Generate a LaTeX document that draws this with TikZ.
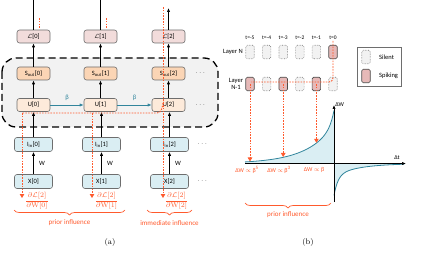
\documentclass[tikz,border=0pt]{standalone}
\usepackage{amsmath,amssymb}
\usepackage{fontspec}
\newfontfamily\figsans{Carlito}
\usepackage{tikz}
\usetikzlibrary{arrows.meta,decorations.pathreplacing}
\usepackage{xcolor}
\definecolor{boxline}{HTML}{6E6E6E}
\definecolor{lossfill}{HTML}{F2DCDB}
\definecolor{soutfill}{HTML}{FBD5B5}
\definecolor{memfill}{HTML}{FDEADA}
\definecolor{infill}{HTML}{DAEEF3}
\definecolor{groupfill}{HTML}{F2F2F2}
\definecolor{decayteal}{HTML}{31859C}
\definecolor{gradred}{HTML}{FF5A2D}
\definecolor{spikefill}{HTML}{E6B9B8}

\begin{document}
\begin{tikzpicture}[x=1pt,y=-1pt,font=\figsans\fontsize{6.5}{7.5}\selectfont]
  \tikzset{statebox/.style={draw=boxline,line width=0.6pt,rounded corners=2.5pt,minimum width=33pt,minimum height=13pt,inner sep=0pt}}
  \tikzset{lossbox/.style={statebox,fill=lossfill}}
  \tikzset{outbox/.style={statebox,fill=soutfill}}
  \tikzset{membox/.style={statebox,fill=memfill}}
  \tikzset{inbox/.style={statebox,fill=infill,minimum width=38pt,minimum height=14pt}}
  \tikzset{link/.style={draw=black,line width=0.7pt}}
  \tikzset{flow/.style={link,-{Latex[length=4pt,width=3.2pt]}}}
  \tikzset{decay/.style={draw=decayteal,line width=0.7pt,-{Latex[length=4pt,width=3.2pt]}}}
  \tikzset{grad/.style={draw=gradred,line width=0.9pt,dash pattern=on 1.6pt off 1.2pt}}
  \tikzset{gradarrow/.style={grad,-{Triangle[length=4pt,width=4.5pt]}}}
  \tikzset{gradlabel/.style={text=gradred,font=\figsans\fontsize{7}{8}\selectfont,inner sep=0pt}}
  \tikzset{gradbrace/.style={draw=gradred,line width=0.7pt,decorate,decoration={brace,amplitude=5pt}}}
  \tikzset{silentbox/.style={draw=gray,densely dotted,line width=0.6pt,fill=groupfill,rounded corners=1.5pt,minimum width=8.5pt,minimum height=13.5pt,inner sep=0pt}}
  \tikzset{spikebox/.style={draw=black!70,line width=0.6pt,fill=spikefill,rounded corners=1.5pt,minimum width=8.5pt,minimum height=13.5pt,inner sep=0pt}}
  \tikzset{steplabel/.style={font=\figsans\fontsize{5.5}{6.5}\selectfont,inner sep=0pt}}
  \tikzset{curve/.style={draw=decayteal,line width=0.8pt}}
  \useasboundingbox (0,0) rectangle (423,259);
  % (a) unrolled network
  \draw[black,line width=1.3pt,dash pattern=on 7pt off 4pt,fill=groupfill,rounded corners=14pt] (2,58) rectangle (218,127);
  \node[lossbox] (l0) at (33.5,36.5) {$\mathcal{L}$[0]};
  \node[lossbox] (l1) at (100.5,36.5) {$\mathcal{L}$[1]};
  \node[lossbox] (l2) at (168.5,36.5) {$\mathcal{L}$[2]};
  \node[outbox] (s0) at (33.5,73.5) {S\textsubscript{out}[0]};
  \node[outbox] (s1) at (100.5,73.5) {S\textsubscript{out}[1]};
  \node[outbox] (s2) at (168.5,73.5) {S\textsubscript{out}[2]};
  \node[membox] (u0) at (33.5,105) {U[0]};
  \node[membox] (u1) at (100.5,105) {U[1]};
  \node[membox] (u2) at (168.5,105) {U[2]};
  \node[inbox] (i0) at (33.5,144.5) {I\textsubscript{in}[0]};
  \node[inbox] (i1) at (101.5,144.5) {I\textsubscript{in}[1]};
  \node[inbox] (i2) at (169.5,144.5) {I\textsubscript{in}[2]};
  \node[inbox] (x0) at (33.5,181.5) {X[0]};
  \node[inbox] (x1) at (101.5,181.5) {X[1]};
  \node[inbox] (x2) at (169.5,181.5) {X[2]};
  \node (sdots) at (201,73.5) {$\cdots$};
  \node (udots) at (201,105) {$\cdots$};
  \node (idots) at (203,144.5) {$\cdots$};
  \node (xdots) at (203,181.5) {$\cdots$};
  \coordinate (top0) at (33.5,0);
  \coordinate (top1) at (100.5,0);
  \coordinate (top2) at (168.5,8);
  \draw[link] (l0.north) -- (top0);
  \draw[link] (l1.north) -- (top1);
  \draw[flow] (l2.north) -- (top2);
  \draw[flow] (s0) -- (l0);
  \draw[flow] (s1) -- (l1);
  \draw[flow] (s2) -- (l2);
  \draw[flow] (u0) -- (s0);
  \draw[flow] (u1) -- (s1);
  \draw[flow] (u2) -- (s2);
  \draw[flow] (i0.north) -- (u0.south);
  \draw[flow] (i1.north) -- (i1.north |- u1.south);
  \draw[flow] (i2.north) -- (i2.north |- u2.south);
  \draw[flow] (x0) -- node[right=2pt] {W} (i0);
  \draw[flow] (x1) -- node[right=2pt] {W} (i1);
  \draw[flow] (x2) -- node[right=2pt] {W} (i2);
  \draw[decay] (u0) -- node[above=1pt,text=decayteal] {β} (u1);
  \draw[decay] (u1) -- node[above=1pt,text=decayteal] {β} (u2);
  % gradient paths
  \coordinate (gtick0a) at (39,18);
  \coordinate (gtick0b) at (39,28);
  \coordinate (gtick1a) at (106,18);
  \coordinate (gtick1b) at (106,28);
  \draw[grad] (gtick0a) -- (gtick0b);
  \draw[grad] (gtick1a) -- (gtick1b);
  \coordinate (g2top) at (163,7);
  \coordinate (g2end) at (163,198);
  \coordinate (gbend) at (163,103);
  \coordinate (gturn) at (157,113);
  \coordinate (gsplit1) at (92,113);
  \coordinate (gsplit0) at (22,113);
  \coordinate (g1end) at (92,198);
  \coordinate (g0end) at (22,198);
  \draw[gradarrow] (g2top) -- (g2end);
  \draw[grad] (gbend) to[out=-100,in=0] (gturn) -- (gsplit0);
  \draw[gradarrow] (gsplit0) -- (g0end);
  \draw[gradarrow] (gsplit1) -- (g1end);
  \node[gradlabel] (d0) at (37,201) {$\dfrac{\partial\mathcal{L}[2]}{\partial\mathrm{W}[0]}$};
  \node[gradlabel] (d1) at (106.5,201) {$\dfrac{\partial\mathcal{L}[2]}{\partial\mathrm{W}[1]}$};
  \node[gradlabel] (d2) at (176.5,201) {$\dfrac{\partial\mathcal{L}[2]}{\partial\mathrm{W}[2]}$};
  \coordinate (pa) at (125,210);
  \coordinate (pb) at (14,210);
  \coordinate (ia) at (192,210);
  \coordinate (ib) at (147,210);
  \draw[gradbrace] (pa) -- (pb);
  \draw[gradbrace] (ia) -- (ib);
  \node[gradlabel] (prior) at (69.5,223) {prior influence};
  \node[gradlabel] (immediate) at (169.5,223) {immediate influence};
  \node[font=\rmfamily\fontsize{8}{9}\selectfont] (capa) at (110,242) {(a)};
  % (b) spike timing
  \node[steplabel] (t5) at (250,38) {t=-5};
  \node[steplabel] (t4) at (266.6,38) {t=-4};
  \node[steplabel] (t3) at (283.2,38) {t=-3};
  \node[steplabel] (t2) at (299.8,38) {t=-2};
  \node[steplabel] (t1) at (316.4,38) {t=-1};
  \node[steplabel] (t0) at (333,38) {t=0};
  \node[silentbox] (an5) at (250,52) {};
  \node[silentbox] (an4) at (266.6,52) {};
  \node[silentbox] (an3) at (283.2,52) {};
  \node[silentbox] (an2) at (299.8,52) {};
  \node[silentbox] (an1) at (316.4,52) {};
  \node[spikebox] (an0) at (333,52) {};
  \node[spikebox] (bn5) at (250,84) {};
  \node[silentbox] (bn4) at (266.6,84) {};
  \node[spikebox] (bn3) at (283.2,84) {};
  \node[silentbox] (bn2) at (299.8,84) {};
  \node[spikebox] (bn1) at (316.4,84) {};
  \node[silentbox] (bn0) at (333,84) {};
  \node[anchor=east,inner sep=0pt] (layern) at (243,52) {Layer N};
  \node[align=center,inner sep=0pt] (layerm) at (236,84) {Layer\\N-1};
  \draw[boxline,line width=0.6pt] (357,47) rectangle (401,86);
  \node[silentbox] (keysilent) at (366,57) {};
  \node[spikebox] (keyspike) at (366,76) {};
  \node[anchor=west,inner sep=0pt] (keysilenttext) at (379,57) {Silent};
  \node[anchor=west,inner sep=0pt] (keyspiketext) at (379,76) {Spiking};
  % STDP window
  \fill[infill] (245,163.5) -- plot[domain=245:334,samples=80] (\x,{163.5-15*exp((\x-334)/4)-38*exp((\x-334)/28)}) -- (334,163.5) -- cycle;
  \fill[infill] (334,163.5) -- plot[domain=334:404,samples=80] (\x,{163.5+20*exp(-(\x-334)/4)+12*exp(-(\x-334)/25)}) -- cycle;
  \draw[curve] plot[domain=245:334,samples=80] (\x,{163.5-15*exp((\x-334)/4)-38*exp((\x-334)/28)});
  \draw[curve] plot[domain=334:404,samples=80] (\x,{163.5+20*exp(-(\x-334)/4)+12*exp(-(\x-334)/25)});
  \coordinate (dwlow) at (334,202);
  \coordinate (dwhigh) at (334,105);
  \coordinate (dtlow) at (245,163.5);
  \coordinate (dthigh) at (406,163.5);
  \draw[flow] (dwlow) -- (dwhigh) node[anchor=west,inner sep=1pt,font=\figsans\fontsize{6}{7}\selectfont] (dwlabel) {ΔW};
  \draw[flow] (dtlow) -- (dthigh);
  \node[font=\figsans\fontsize{6}{7}\selectfont] (dtlabel) at (397,158) {Δt};
  \coordinate (rtop) at (333,41);
  \coordinate (rleft) at (251,82);
  \draw[grad,rounded corners=4pt] (rtop) |- (rleft);
  \coordinate (c5) at (250,161.5);
  \coordinate (c3) at (283.2,157);
  \coordinate (c1) at (316.4,142.8);
  \draw[gradarrow] (bn5.center) -- (c5);
  \draw[gradarrow] (bn3.center) -- (c3);
  \draw[gradarrow] (bn1.center) -- (c1);
  \node[gradlabel,font=\figsans\fontsize{6}{7}\selectfont] (w5) at (247,170) {ΔW $\propto$ β\textsuperscript{5}};
  \node[gradlabel,font=\figsans\fontsize{6}{7}\selectfont] (w3) at (279,170) {ΔW $\propto$ β\textsuperscript{3}};
  \node[gradlabel,font=\figsans\fontsize{6}{7}\selectfont] (w1) at (314,170) {ΔW $\propto$ β};
  \coordinate (qa) at (331,203);
  \coordinate (qb) at (245,203);
  \draw[gradbrace] (qa) -- (qb);
  \node[gradlabel] (priorb) at (288,215) {prior influence};
  \node[font=\rmfamily\fontsize{8}{9}\selectfont] (capb) at (308,242) {(b)};
\end{tikzpicture}
\end{document}
